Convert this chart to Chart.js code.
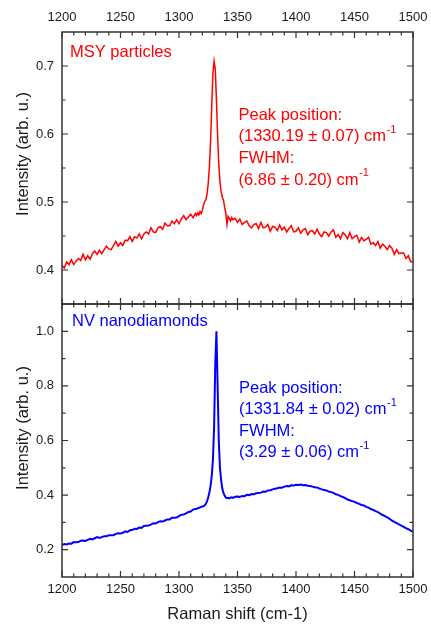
<!DOCTYPE html>
<html>
<head>
<meta charset="utf-8">
<script src="https://cdn.jsdelivr.net/npm/chart.js@4.4.1/dist/chart.umd.min.js"></script>
<style>
  body { margin: 0; background: #fff; }
  #wrap { position: relative; width: 431px; height: 624px; }
  .panel { position: absolute; left: 0; }
</style>
</head>
<body>
<div id="wrap">
  <div class="panel" style="top:0"><canvas id="chart-msy" width="431" height="306"></canvas></div>
  <div class="panel" style="top:303px"><canvas id="chart-nv" width="431" height="321"></canvas></div>
</div>
<script>
// Raman shift (cm-1), shared by both spectra
const shift = [
  1200,1202,1204,1206,1208,1210,1212,1214,1216,1218,1220,1222,1224,1226,1228,1230,1232,1234,1236,1238,
  1240,1242,1244,1246,1248,1250,1252,1254,1256,1258,1260,1262,1264,1266,1268,1270,1272,1274,1276,1278,
  1280,1282,1284,1286,1288,1290,1292,1294,1296,1298,1300,1302,1304,1306,1308,1310,1312,1314,
  1315,1316,1317,1318,1319,1320,1321,1322,1323,1324,1325,1326,1327,1328,1329,1330,1331,1332,1333,1334,
  1335,1336,1337,1338,1339,1340,1341,1342,1343,1344,1345,1346,
  1348,1350,1352,1354,1356,1358,1360,1362,1364,1366,1368,1370,1372,1374,1376,1378,1380,1382,1384,1386,
  1388,1390,1392,1394,1396,1398,1400,1402,1404,1406,1408,1410,1412,1414,1416,1418,1420,1422,1424,1426,
  1428,1430,1432,1434,1436,1438,1440,1442,1444,1446,1448,1450,1452,1454,1456,1458,1460,1462,1464,1466,
  1468,1470,1472,1474,1476,1478,1480,1482,1484,1486,1488,1490,1492,1494,1496,1498,1500
];

// MSY particles intensity
const msy = [
  0.407,0.403,0.412,0.408,0.415,0.408,0.413,0.417,0.414,0.423,
  0.415,0.421,0.416,0.424,0.428,0.423,0.429,0.424,0.430,0.435,
  0.431,0.430,0.436,0.442,0.435,0.440,0.436,0.444,0.443,0.449,
  0.442,0.449,0.447,0.453,0.446,0.453,0.456,0.453,0.462,0.456,
  0.455,0.462,0.464,0.460,0.469,0.465,0.465,0.472,0.468,0.474,
  0.468,0.475,0.480,0.474,0.478,0.482,0.477,0.483,
  0.480,0.484,0.481,0.486,0.483,0.488,0.496,0.501,0.503,0.512,
  0.528,0.552,0.590,0.642,0.690,0.707,0.695,0.650,0.597,0.556,
  0.530,0.515,0.507,0.503,0.492,0.484,0.467,0.479,0.476,0.472,
  0.477,0.474,
  0.476,0.470,0.475,0.467,0.470,0.472,0.465,0.462,0.467,0.468,
  0.461,0.470,0.462,0.463,0.467,0.457,0.464,0.463,0.458,0.466,
  0.459,0.463,0.456,0.461,0.465,0.456,0.457,0.462,0.454,0.459,
  0.461,0.452,0.457,0.458,0.453,0.460,0.453,0.449,0.456,0.455,
  0.450,0.456,0.459,0.448,0.452,0.446,0.455,0.452,0.446,0.455,
  0.446,0.449,0.451,0.441,0.448,0.443,0.445,0.448,0.438,0.440,
  0.436,0.442,0.432,0.438,0.435,0.430,0.436,0.432,0.423,0.430,
  0.424,0.425,0.425,0.417,0.421,0.412,0.412
];

// NV nanodiamonds intensity
const nv = [
  0.217,0.221,0.219,0.223,0.222,0.228,0.227,0.228,0.233,0.234,
  0.232,0.236,0.240,0.238,0.242,0.246,0.243,0.246,0.249,0.249,
  0.253,0.253,0.253,0.258,0.260,0.259,0.262,0.267,0.265,0.271,
  0.272,0.277,0.276,0.281,0.280,0.287,0.288,0.289,0.292,0.297,
  0.296,0.301,0.304,0.303,0.307,0.311,0.311,0.317,0.317,0.318,
  0.323,0.328,0.329,0.333,0.338,0.340,0.347,0.349,
  0.350,0.352,0.353,0.355,0.357,0.358,0.360,0.363,0.368,0.378,
  0.392,0.410,0.435,0.470,0.530,0.650,0.880,1.000,0.800,0.600,
  0.500,0.455,0.425,0.408,0.398,0.391,0.389,0.390,0.388,0.391,
  0.392,0.390,
  0.394,0.395,0.393,0.397,0.396,0.401,0.400,0.404,0.403,0.407,
  0.408,0.409,0.413,0.412,0.417,0.418,0.421,0.423,0.425,0.428,
  0.427,0.431,0.433,0.432,0.436,0.435,0.438,0.437,0.439,0.436,
  0.437,0.434,0.433,0.431,0.429,0.428,0.424,0.421,0.419,0.417,
  0.413,0.411,0.408,0.403,0.401,0.396,0.393,0.389,0.384,0.381,
  0.378,0.375,0.371,0.368,0.364,0.362,0.357,0.354,0.349,0.346,
  0.341,0.338,0.332,0.327,0.323,0.318,0.313,0.306,0.302,0.297,
  0.293,0.288,0.284,0.279,0.275,0.270,0.266
];

const xTicks = [1200, 1250, 1300, 1350, 1400, 1450, 1500];
const yTicksMsy = [0.4, 0.5, 0.6, 0.7];
const yTicksNv = [0.2, 0.4, 0.6, 0.8, 1.0];

const FONT = '"Liberation Sans", Arial, sans-serif';
const INK = '#1a1a1a';

function toPoints(ys) {
    return shift.map((x, i) => ({ x: x, y: ys[i] }));
}

// frame, inward ticks, y title and in-plot notes
const panelPlugin = {
    id: 'panel',
    afterDraw(chart, args, opts) {
        const ctx = chart.ctx;
        const a = chart.chartArea;
        const xs = chart.scales.x;
        const ys = chart.scales.y;
        ctx.save();
        ctx.strokeStyle = '#333';
        ctx.lineWidth = 1.2;
        ctx.beginPath();
        for (let v = 1200; v <= 1500; v += 10) {
            const len = (v % 50 === 0) ? 6 : 3.5;
            const px = xs.getPixelForValue(v);
            ctx.moveTo(px, a.top); ctx.lineTo(px, a.top + len);
            ctx.moveTo(px, a.bottom); ctx.lineTo(px, a.bottom - len);
        }
        const n = Math.round((ys.max - ys.min) / opts.minor);
        for (let k = 1; k < n; k++) {
            const v = ys.min + k * opts.minor;
            const major = opts.major.some(m => Math.abs(m - v) < 1e-6);
            const len = major ? 6 : 3.5;
            const py = ys.getPixelForValue(v);
            ctx.moveTo(a.left, py); ctx.lineTo(a.left + len, py);
            ctx.moveTo(a.right, py); ctx.lineTo(a.right - len, py);
        }
        ctx.stroke();
        ctx.lineWidth = 1.5;
        ctx.strokeRect(a.left, a.top, a.right - a.left, a.bottom - a.top);

        // y title
        ctx.save();
        ctx.translate(opts.titleX, opts.titleY);
        ctx.rotate(-Math.PI / 2);
        ctx.fillStyle = INK;
        ctx.font = '16.5px ' + FONT;
        ctx.textAlign = 'center';
        ctx.textBaseline = 'middle';
        ctx.fillText('Intensity (arb. u.)', 0, 0);
        ctx.restore();

        // notes
        ctx.fillStyle = opts.color;
        ctx.textAlign = 'left';
        ctx.textBaseline = 'middle';
        ctx.font = '16.5px ' + FONT;
        ctx.fillText(opts.name, opts.nameX, opts.nameY);
        opts.lines.forEach((ln, i) => {
            const y = opts.notesY + i * opts.lineGap;
            ctx.font = '16.5px ' + FONT;
            ctx.fillText(ln[0], opts.notesX, y);
            if (ln[1]) {
                const w = ctx.measureText(ln[0]).width;
                ctx.font = '11px ' + FONT;
                ctx.fillText(ln[1], opts.notesX + w + 0.5, y - 7);
            }
        });
        ctx.restore();
    }
};

function noMargins(s) {
    s.paddingTop = 0;
    s.paddingBottom = 0;
    s.paddingLeft = 0;
    s.paddingRight = 0;
}

function makeChart(id, cfg) {
    const ctx = document.getElementById(id).getContext('2d');
    return new Chart(ctx, {
        type: 'line',
        data: {
            datasets: [{
                data: toPoints(cfg.values),
                borderColor: cfg.color,
                borderWidth: cfg.width,
                pointRadius: 0,
                tension: 0,
                fill: false
            }]
        },
        options: {
            responsive: false,
            animation: false,
            devicePixelRatio: 1,
            layout: { padding: cfg.padding },
            plugins: {
                legend: { display: false },
                tooltip: { enabled: false },
                panel: cfg.panel
            },
            scales: {
                x: {
                    type: 'linear',
                    position: cfg.xPos,
                    min: 1200,
                    max: 1500,
                    afterBuildTicks: s => { s.ticks = xTicks.map(v => ({ value: v })); },
                    afterFit: s => { s.height = cfg.xHeight; noMargins(s); },
                    grid: { display: false, drawTicks: false },
                    border: { display: false },
                    ticks: {
                        padding: cfg.xPad,
                        maxRotation: 0,
                        autoSkip: false,
                        color: INK,
                        font: { family: FONT, size: 13 },
                        callback: v => String(v)
                    },
                    title: cfg.xTitle
                },
                y: {
                    min: cfg.yMin,
                    max: cfg.yMax,
                    afterBuildTicks: s => { s.ticks = cfg.yTicks.map(v => ({ value: v })); },
                    afterFit: s => { s.width = 62; noMargins(s); },
                    grid: { display: false, drawTicks: false },
                    border: { display: false },
                    ticks: {
                        padding: 8,
                        color: INK,
                        font: { family: FONT, size: 13 },
                        callback: v => Number(v).toFixed(1)
                    }
                }
            }
        },
        plugins: [panelPlugin]
    });
}

makeChart('chart-msy', {
    values: msy,
    color: '#ff0000',
    width: 1.5,
    padding: { left: 0, right: 18, top: 0, bottom: 2 },
    xPos: 'top',
    xHeight: 32,
    xPad: 7,
    xTitle: { display: false },
    yMin: 0.35,
    yMax: 0.75,
    yTicks: yTicksMsy,
    panel: {
        minor: 0.05,
        major: yTicksMsy,
        titleX: 23,
        titleY: 154,
        color: '#ff0000',
        name: 'MSY particles',
        nameX: 70,
        nameY: 52.5,
        notesX: 238.5,
        notesY: 115,
        lineGap: 21.7,
        lines: [['Peak position:'], ['(1330.19 \u00b1 0.07) cm', '-1'], ['FWHM:'], ['(6.86 \u00b1 0.20) cm', '-1']]
    }
});

makeChart('chart-nv', {
    values: nv,
    color: '#0000ff',
    width: 2,
    padding: { left: 0, right: 18, top: 1, bottom: 0 },
    xPos: 'bottom',
    xHeight: 47,
    xPad: 5,
    xTitle: {
        display: true,
        text: 'Raman shift (cm-1)',
        color: INK,
        font: { family: FONT, size: 16.5 },
        padding: { top: 0, bottom: 0 }
    },
    yMin: 0.1,
    yMax: 1.1,
    yTicks: yTicksNv,
    panel: {
        minor: 0.1,
        major: yTicksNv,
        titleX: 23,
        titleY: 125,
        color: '#0000ff',
        name: 'NV nanodiamonds',
        nameX: 72,
        nameY: 18,
        notesX: 239,
        notesY: 85,
        lineGap: 21.5,
        lines: [['Peak position:'], ['(1331.84 \u00b1 0.02) cm', '-1'], ['FWHM:'], ['(3.29 \u00b1 0.06) cm', '-1']]
    }
});
</script>
</body>
</html>
